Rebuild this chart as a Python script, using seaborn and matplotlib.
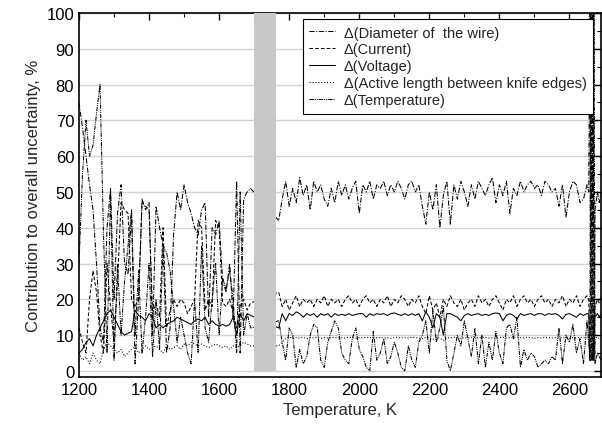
import numpy as np
import pandas as pd
import matplotlib
matplotlib.use("Agg")
import matplotlib.pyplot as plt
import seaborn as sns
from matplotlib.ticker import MultipleLocator

sns.set_theme(style="white")
plt.rcParams['font.family'] = ['Liberation Sans', 'DejaVu Sans']

# ---------------- data ----------------
T_left = list(range(1200, 1700, 10))            # 50 points
T_right = list(range(1770, 2660, 10))           # 89 points
T_tail = [2655, 2658, 2661, 2664, 2667, 2670, 2673, 2680, 2685, 2690]

diam_left = [75, 68, 60, 52, 45, 30, 12, 8, 40, 51,
             20, 44, 52, 30, 27, 44, 2, 20, 48, 45,
             47, 10, 46, 40, 35, 5, 12, 38, 50, 45,
             52, 47, 44, 40, 38, 45, 47, 15, 40, 38,
             42, 25, 22, 30, 15, 53, 5, 48, 50, 51]
temp_left = [30, 55, 70, 60, 63, 72, 80, 38, 5, 50,
             3, 30, 10, 25, 35, 45, 10, 28, 5, 15,
             30, 4, 20, 6, 35, 33, 28, 18, 8, 15,
             10, 5, 2, 20, 5, 35, 12, 8, 20, 30,
             10, 26, 23, 28, 20, 5, 50, 10, 16, 12]
curr_left = [12, 8, 5, 20, 28, 22, 10, 5, 30, 18,
             8, 25, 47, 45, 44, 20, 18, 20, 47, 46,
             45, 16, 19, 15, 40, 12, 17, 20, 18, 20,
             19, 16, 18, 20, 42, 40, 17, 20, 18, 42,
             40, 19, 18, 20, 16, 12, 18, 20, 17, 19]
volt_left = [5, 6, 8, 9, 7, 10, 12, 14, 16, 17,
             15, 13, 11, 10, 10.5, 11, 17, 15.5, 15, 14,
             16, 15, 12, 13, 12, 13, 13.5, 14, 15, 14.5,
             14, 13.5, 13, 14, 14.5, 14, 15, 13, 14, 13,
             12.5, 13, 12.5, 13, 15, 10, 16, 14, 16, 15.5]
act_left = [5, 3, 4, 2, 5, 3, 2, 6, 8, 7,
            6, 5, 6, 4, 5, 6, 7, 5, 6, 7,
            6, 6.5, 7, 6, 5, 7, 6, 6.5, 7, 6,
            7.5, 7, 8, 7.5, 7, 7.5, 7, 6.5, 7, 7.5,
            7, 6.5, 7, 6, 7, 6.5, 7, 8, 7.5, 7]

diam_right = [42, 48, 53, 46, 51, 47, 54, 49, 52,
              45, 53, 50, 52, 48, 46, 51, 47, 53, 49,
              52, 48, 51, 53, 44, 52, 50, 53, 48, 52,
              51, 53, 49, 52, 50, 53, 51, 48, 52, 53,
              50, 52, 46, 41, 50, 45, 52, 40, 49, 53,
              41, 52, 48, 53, 50, 46, 52, 48, 53, 51,
              49, 52, 54, 47, 52, 49, 53, 44, 51, 49,
              53, 50, 52, 53, 51, 52, 49, 53, 52, 50,
              51, 46, 52, 43, 50, 53, 52, 47, 48, 52]
curr_right = [22, 18, 20, 17, 19, 21, 18, 20, 19,
              20, 18, 20, 19, 21, 18, 20, 19, 20, 18,
              20, 21, 19, 20, 18, 20, 21, 19, 20, 18,
              20, 19, 21, 18, 20, 19, 21, 20, 18, 20,
              19, 21, 18, 16, 21, 17, 19, 15, 20, 18,
              21, 19, 18, 20, 17, 19, 20, 18, 21, 19,
              20, 18, 20, 21, 19, 17, 20, 19, 21, 18,
              20, 21, 19, 20, 18, 20, 21, 19, 20, 18,
              20, 19, 21, 18, 20, 19, 21, 18, 20, 21]
volt_right = [12, 16, 14, 16, 15.5, 16.5, 16, 15, 16,
              15.5, 16, 15, 16, 15.5, 16, 15, 16, 15.5, 15.8,
              15.5, 16, 15.5, 15.8, 16, 16, 15, 16, 15.5, 16,
              15.8, 16, 15.5, 16, 16.2, 15.8, 15.5, 16, 15.5, 16,
              15.5, 16, 14, 16.5, 15, 12, 16, 15, 10, 16,
              16, 15.5, 15, 14, 15.5, 16, 15.5, 15.8, 16, 15.5,
              15.8, 15.5, 16, 16.2, 16, 14, 15.5, 16, 15.5, 14.5,
              16, 15.5, 15.8, 16, 15.5, 16, 16, 15.5, 16, 15.8,
              16, 15.5, 14.5, 15.8, 16, 15.5, 15, 16, 15.5, 16]
act_right = [7, 8, 9, 9.5, 9, 9.3, 9.2, 9.4, 9,
             9.3, 9.2, 9.4, 9.1, 9.3, 9.2, 9.4, 9.3, 9.2, 9.3,
             9.2, 9.4, 9.3, 9.1, 9.3, 9.2, 9.4, 9.3, 9.2, 9.3,
             9.4, 9.2, 9.3, 9.1, 9.3, 9.4, 9.2, 9.3, 9.2, 9.4,
             9.3, 9.2, 9.0, 9.4, 9.3, 8.8, 9.3, 9.2, 8.5, 9.3,
             9.2, 9.4, 9.3, 9.1, 9.3, 9.2, 9.4, 9.3, 9.2, 9.3,
             9.4, 9.2, 9.3, 9.1, 9.3, 9.4, 9.2, 9.3, 9.2, 9.4,
             9.3, 9.2, 9.4, 9.3, 9.1, 9.3, 9.2, 9.4, 9.3, 9.2,
             9.3, 9.4, 9.2, 9.3, 9.1, 9.3, 9.2, 9.4, 9.3, 9.2]
temp_right = [14, 8, 3, 12, 10, 1, 6, 2, 4,
              10, 13, 12, 3, 1, 8, 11, 14, 12, 5,
              3, 2, 9, 12, 6, 4, 1, 0, 11, 3,
              5, 9, 2, 4, 8, 5, 1, 0, 7, 3,
              1, 8, 10, 14, 5, 17, 8, 12, 18, 3,
              0, 5, 10, 7, 14, 9, 4, 12, 2, 10,
              1, 8, 3, 11, 5, 2, 12, 13, 9, 15,
              1, 6, 3, 5, 4, 1, 2, 3, 2, 4,
              3, 12, 2, 10, 8, 13, 5, 9, 2, 14]

diam_tail = [50, 100, 4, 4, 100, 4, 45, 50, 47, 50]
temp_tail = [8, 3, 100, 3, 3, 100, 2, 5, 4, 3]
curr_tail = [20, 4, 4, 100, 3, 3, 18, 20, 19, 21]
volt_tail = [16, 3, 3, 4, 3, 15, 15, 16, 15, 16]
act_tail = [9, 4, 3, 3, 4, 3, 9, 9.5, 9, 9]

labels = ["\u0394(Diameter of  the wire)", "\u0394(Current)", "\u0394(Voltage)",
          "\u0394(Active length between knife edges)", "\u0394(Temperature)"]

T = T_left + T_right + T_tail
series = {
    labels[0]: diam_left + diam_right + diam_tail,
    labels[1]: curr_left + curr_right + curr_tail,
    labels[2]: volt_left + volt_right + volt_tail,
    labels[3]: act_left + act_right + act_tail,
    labels[4]: temp_left + temp_right + temp_tail,
}
styles = {
    labels[0]: (0, (5, 1.5, 1, 1.5)),
    labels[1]: (0, (3.5, 2)),
    labels[2]: "-",
    labels[3]: (0, (1, 1.8)),
    labels[4]: (0, (4, 1, 1, 1, 1, 1)),
}

# ---------------- plot ----------------
fig = plt.figure(figsize=(6.02, 4.31), dpi=100)
ax = fig.add_axes([79 / 602, (431 - 378) / 431, (601 - 79) / 602, (378 - 14) / 431])

for lab in labels:
    df = pd.DataFrame({"T": T, "v": series[lab]})
    sns.lineplot(data=df, x="T", y="v", ax=ax, color="black", linewidth=0.75,
                 linestyle=styles[lab], estimator=None, sort=False, label=lab)

ax.axvspan(1700, 1762, ymin=(0 + 1.7) / 101.7, ymax=1, color="#c8c8c8", zorder=5, lw=0)

ax.set_xlim(1200, 2690)
ax.set_ylim(-1.7, 100)
ax.xaxis.set_major_locator(MultipleLocator(200))
ax.xaxis.set_minor_locator(MultipleLocator(100))
ax.yaxis.set_major_locator(MultipleLocator(10))
ax.yaxis.set_minor_locator(MultipleLocator(5))
ax.grid(axis="y", which="major", color="#d2d2d2", linewidth=1.0)
ax.set_axisbelow(True)
ax.tick_params(which="both", direction="in", top=True, right=True, labelsize=12,
               colors="black")
ax.tick_params(which="major", length=5, width=1)
ax.tick_params(which="minor", length=3, width=0.8)
for s in ax.spines.values():
    s.set_color("black")
    s.set_linewidth(1.2)

ax.set_xlabel("Temperature, K", fontsize=12)
ax.set_ylabel("Contribution to overall uncertainty, %", fontsize=12)

leg = ax.legend(loc="upper right", bbox_to_anchor=(0.9847, 0.9835), fontsize=10.5,
                frameon=True, fancybox=False, framealpha=1, edgecolor="black",
                handlelength=1.75, handletextpad=0.6, borderpad=0.45, labelspacing=0.2,
                borderaxespad=0)
leg.get_frame().set_linewidth(0.8)
leg.set_zorder(10)

fig.savefig("out.png", dpi=100)
